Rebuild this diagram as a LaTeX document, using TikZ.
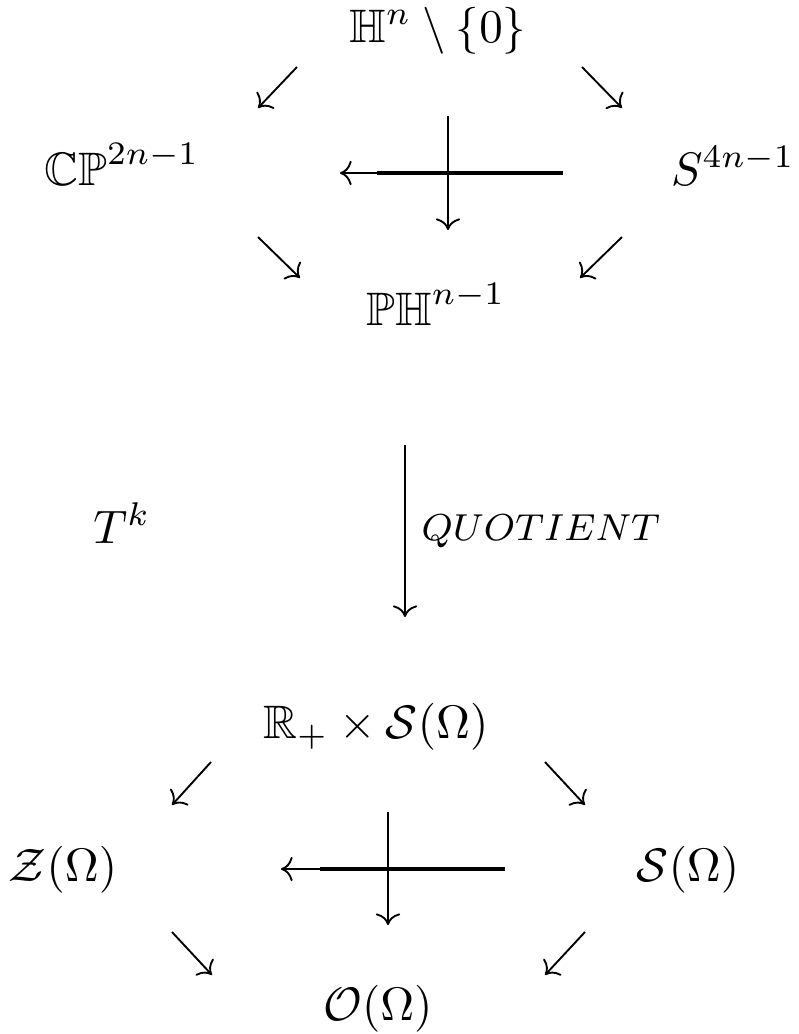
\documentclass[tikz,border=0pt]{standalone}
\usepackage{amsmath,amssymb}
\usetikzlibrary{arrows.meta}

\begin{document}
\begin{tikzpicture}[
  x=0.213pt, y=-0.213pt,
  >=To,
  obj/.style ={anchor=base,inner sep=0pt},
  map/.style ={->,line width=0.4pt},
  over/.style={line width=0.7pt},
]
\useasboundingbox (0,0) rectangle (798,1034);

%% ============================================================
%%  upper square
%% ============================================================
\node[obj] (hn)  at (438,42)  {$\mathbb{H}^n \setminus \{0\}$};
\node[obj] (cp)  at (122,185) {$\mathbb{CP}^{2n-1}$};
\node[obj] (sph) at (733,185) {$S^{4n-1}$};
\node[obj] (ph)  at (436,325) {$\mathbb{PH}^{n-1}$};

\coordinate (hnL)  at (297,67);  \coordinate (cpT)  at (258,108);
\coordinate (hnR)  at (582,67);  \coordinate (sphT) at (622,108);
\coordinate (cpB)  at (258,237); \coordinate (phL)  at (300,278);
\coordinate (sphB) at (622,237); \coordinate (phR)  at (580,278);
\coordinate (hR)   at (563,173); \coordinate (hL)   at (340,173);
\coordinate (hM)   at (377,173);
\coordinate (vT)   at (448,116); \coordinate (vB)   at (448,230);

\draw[map] (hnL) -- (cpT);
\draw[map] (hnR) -- (sphT);
\draw[map] (cpB) -- (phL);
\draw[map] (sphB) -- (phR);
\draw[map] (hR) -- (hL);
\draw[over] (hM) -- (hR);
\draw[map] (vT) -- (vB);

%% ============================================================
%%  quotient
%% ============================================================
\node[obj] (tk) at (122,543) {$T^k$};
\coordinate (qT) at (405,445);
\coordinate (qB) at (405,617);
\draw[map] (qT) -- node[right=0pt,font=\fontsize{7.8}{9}\selectfont] {$QUOTIENT$} (qB);

%% ============================================================
%%  lower square
%% ============================================================
\node[obj] (rs) at (376,738)  {$\mathbb{R}_+ \times \mathcal{S}(\Omega)$};
\node[obj] (zo) at (63,881)   {$\mathcal{Z}(\Omega)$};
\node[obj] (so) at (688,881)  {$\mathcal{S}(\Omega)$};
\node[obj] (oo) at (378,1020) {$\mathcal{O}(\Omega)$};

\coordinate (rsL) at (211,762); \coordinate (zoT) at (172,805);
\coordinate (rsR) at (545,762); \coordinate (soT) at (585,805);
\coordinate (zoB) at (172,932); \coordinate (ooL) at (212,975);
\coordinate (soB) at (585,932); \coordinate (ooR) at (545,975);
\coordinate (kR)  at (505,869); \coordinate (kL)  at (281,869);
\coordinate (kM)  at (320,869);
\coordinate (wT)  at (388,812); \coordinate (wB)  at (388,925);

\draw[map] (rsL) -- (zoT);
\draw[map] (rsR) -- (soT);
\draw[map] (zoB) -- (ooL);
\draw[map] (soB) -- (ooR);
\draw[map] (kR) -- (kL);
\draw[over] (kM) -- (kR);
\draw[map] (wT) -- (wB);

\end{tikzpicture}
\end{document}
